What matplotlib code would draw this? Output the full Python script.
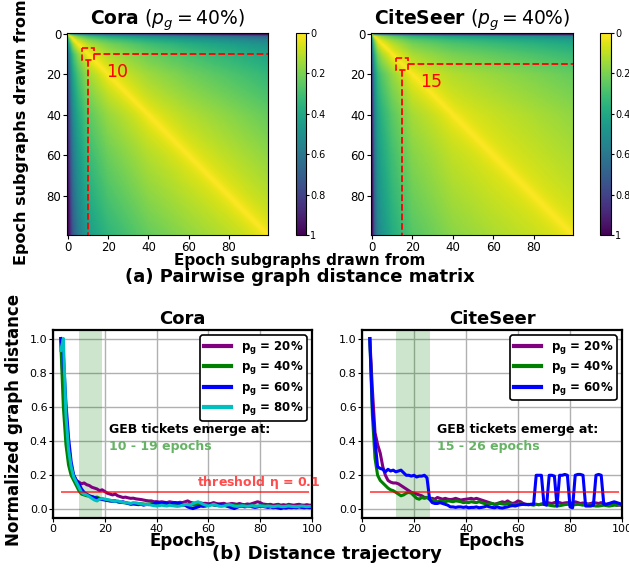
import numpy as np
import matplotlib
matplotlib.use("Agg")
import matplotlib.pyplot as plt
from matplotlib.patches import Rectangle

# ---------------- data ----------------
# heatmap model anchors: drift of each epoch's subgraph,
# separately for the upper-right and lower-left triangles
anchor_epochs = [0, 1, 2, 3, 5, 10, 20, 40, 60, 80, 99]
cora_drift_upper = [0, 0.35, 0.42, 0.48, 0.55, 0.63, 0.71, 0.81, 0.88, 0.94, 1.0]
cora_drift_lower = [0, 0.15, 0.28, 0.36, 0.46, 0.60, 0.70, 0.81, 0.88, 0.94, 1.0]
cite_drift_upper = [0, 0.50, 0.55, 0.60, 0.65, 0.72, 0.81, 0.88, 0.92, 0.96, 1.0]
cite_drift_lower = [0, 0.30, 0.42, 0.50, 0.56, 0.66, 0.78, 0.87, 0.92, 0.96, 1.0]
noise_floor = 0.045
cora_mark = 10
citeseer_mark = 15

epochs = list(range(3, 101))

cora_p20 = [1.0, 0.72, 0.48, 0.33, 0.24, 0.20, 0.17, 0.16, 0.15, 0.155,
            0.145, 0.14, 0.13, 0.125, 0.12, 0.11, 0.115, 0.105, 0.095, 0.09,
            0.085, 0.09, 0.08, 0.075, 0.07, 0.072, 0.068, 0.065, 0.066, 0.062,
            0.06, 0.058, 0.055, 0.052, 0.05, 0.05, 0.045, 0.046, 0.043, 0.045,
            0.042, 0.04, 0.045, 0.042, 0.04, 0.038, 0.042, 0.04, 0.045, 0.05,
            0.042, 0.038, 0.035, 0.04, 0.038, 0.035, 0.036, 0.033, 0.035, 0.04,
            0.035, 0.032, 0.034, 0.036, 0.03, 0.032, 0.035, 0.033, 0.03, 0.035,
            0.03, 0.028, 0.032, 0.03, 0.035, 0.04, 0.045, 0.04, 0.032, 0.03,
            0.028, 0.03, 0.025, 0.028, 0.03, 0.025, 0.028, 0.025, 0.03, 0.027,
            0.025, 0.028, 0.03, 0.026, 0.025, 0.028, 0.025, 0.025]
cora_p40 = [0.98, 0.6, 0.38, 0.26, 0.2, 0.17, 0.14, 0.11, 0.09, 0.085,
            0.08, 0.078, 0.075, 0.07, 0.072, 0.065, 0.06, 0.058, 0.055, 0.05,
            0.05, 0.048, 0.045, 0.042, 0.04, 0.038, 0.036, 0.035, 0.034, 0.036,
            0.035, 0.033, 0.032, 0.03, 0.032, 0.034, 0.03, 0.028, 0.03, 0.032,
            0.035, 0.03, 0.028, 0.025, 0.027, 0.03, 0.028, 0.025, 0.027, 0.03,
            0.028, 0.026, 0.025, 0.028, 0.03, 0.027, 0.025, 0.028, 0.03, 0.026,
            0.025, 0.022, 0.024, 0.025, 0.022, 0.02, 0.022, 0.025, 0.023, 0.02,
            0.022, 0.02, 0.018, 0.02, 0.022, 0.02, 0.018, 0.02, 0.022, 0.02,
            0.018, 0.02, 0.017, 0.018, 0.02, 0.018, 0.016, 0.018, 0.02, 0.017,
            0.016, 0.018, 0.017, 0.015, 0.018, 0.016, 0.015, 0.016]
cora_p60 = [1.0, 0.9, 0.62, 0.42, 0.28, 0.2, 0.17, 0.15, 0.12, 0.1,
            0.09, 0.08, 0.075, 0.07, 0.065, 0.06, 0.058, 0.055, 0.052, 0.05,
            0.048, 0.05, 0.045, 0.042, 0.045, 0.04, 0.035, 0.03, 0.032, 0.03,
            0.028, 0.03, 0.025, 0.03, 0.028, 0.03, 0.032, 0.04, 0.038, 0.035,
            0.04, 0.035, 0.03, 0.035, 0.04, 0.038, 0.035, 0.03, 0.025, 0.015,
            0.01, 0.005, 0.01, 0.015, 0.02, 0.018, 0.02, 0.025, 0.03, 0.028,
            0.025, 0.03, 0.028, 0.025, 0.02, 0.015, 0.01, 0.005, 0.012, 0.018,
            0.02, 0.015, 0.018, 0.02, 0.015, 0.012, 0.015, 0.02, 0.018, 0.015,
            0.012, 0.015, 0.01, 0.012, 0.008, 0.005, 0.01, 0.008, 0.012, 0.01,
            0.012, 0.01, 0.015, 0.012, 0.01, 0.012, 0.01, 0.012]
cora_p80 = [0.93, 1.0, 0.55, 0.35, 0.25, 0.19, 0.16, 0.13, 0.1, 0.09,
            0.085, 0.075, 0.065, 0.055, 0.05, 0.06, 0.065, 0.06, 0.058, 0.055,
            0.05, 0.048, 0.05, 0.045, 0.042, 0.04, 0.038, 0.035, 0.04, 0.038,
            0.035, 0.032, 0.03, 0.028, 0.03, 0.025, 0.022, 0.02, 0.022, 0.025,
            0.022, 0.02, 0.025, 0.022, 0.02, 0.018, 0.02, 0.025, 0.03, 0.028,
            0.025, 0.035, 0.04, 0.045, 0.038, 0.03, 0.025, 0.02, 0.025, 0.03,
            0.025, 0.02, 0.018, 0.02, 0.025, 0.028, 0.025, 0.02, 0.018, 0.02,
            0.022, 0.02, 0.018, 0.02, 0.022, 0.018, 0.02, 0.022, 0.02, 0.018,
            0.02, 0.018, 0.016, 0.018, 0.02, 0.017, 0.016, 0.018, 0.02, 0.018,
            0.017, 0.016, 0.018, 0.02, 0.018, 0.016, 0.018, 0.017]

cite_p20 = [1.0, 0.7, 0.45, 0.38, 0.33, 0.25, 0.2, 0.17, 0.16, 0.155,
            0.155, 0.15, 0.14, 0.13, 0.12, 0.11, 0.1, 0.095, 0.09, 0.085,
            0.08, 0.07, 0.07, 0.065, 0.065, 0.06, 0.07, 0.065, 0.06, 0.065,
            0.06, 0.058, 0.06, 0.065, 0.06, 0.055, 0.058, 0.06, 0.062, 0.065,
            0.06, 0.065, 0.06, 0.055, 0.05, 0.045, 0.04, 0.035, 0.03, 0.035,
            0.04, 0.045, 0.04, 0.05, 0.04, 0.035, 0.04, 0.05, 0.045, 0.035,
            0.03, 0.028, 0.03, 0.032, 0.03, 0.028, 0.03, 0.035, 0.04, 0.038,
            0.035, 0.04, 0.045, 0.04, 0.035, 0.038, 0.04, 0.035, 0.038, 0.045,
            0.04, 0.035, 0.038, 0.035, 0.032, 0.035, 0.04, 0.038, 0.035, 0.04,
            0.035, 0.03, 0.032, 0.028, 0.03, 0.025, 0.025, 0.025]
cite_p40 = [1.0, 0.55, 0.3, 0.2, 0.17, 0.155, 0.14, 0.125, 0.115, 0.11,
            0.1, 0.09, 0.08, 0.085, 0.095, 0.1, 0.095, 0.08, 0.065, 0.06,
            0.07, 0.065, 0.07, 0.06, 0.055, 0.05, 0.045, 0.05, 0.048, 0.045,
            0.05, 0.048, 0.045, 0.05, 0.048, 0.045, 0.04, 0.042, 0.04, 0.045,
            0.042, 0.04, 0.045, 0.04, 0.035, 0.03, 0.032, 0.035, 0.03, 0.032,
            0.035, 0.032, 0.03, 0.035, 0.032, 0.03, 0.028, 0.03, 0.032, 0.03,
            0.028, 0.03, 0.028, 0.025, 0.03, 0.028, 0.032, 0.03, 0.028, 0.025,
            0.022, 0.02, 0.02, 0.022, 0.025, 0.028, 0.03, 0.028, 0.025, 0.028,
            0.03, 0.028, 0.025, 0.028, 0.03, 0.025, 0.022, 0.02, 0.02, 0.022,
            0.025, 0.022, 0.02, 0.022, 0.025, 0.025, 0.028, 0.025]
cite_p60 = [1.0, 0.6, 0.4, 0.25, 0.24, 0.235, 0.22, 0.235, 0.225, 0.23,
            0.22, 0.225, 0.23, 0.215, 0.2, 0.2, 0.195, 0.2, 0.19, 0.195,
            0.195, 0.2, 0.185, 0.06, 0.04, 0.035, 0.035, 0.04, 0.035, 0.03,
            0.025, 0.015, 0.015, 0.012, 0.015, 0.015, 0.012, 0.015, 0.01, 0.012,
            0.012, 0.015, 0.01, 0.012, 0.015, 0.02, 0.015, 0.012, 0.01, 0.015,
            0.01, 0.008, 0.012, 0.015, 0.02, 0.022, 0.02, 0.025, 0.028, 0.03,
            0.03, 0.028, 0.03, 0.03, 0.2, 0.2, 0.2, 0.03, 0.025, 0.2,
            0.2, 0.195, 0.02, 0.2, 0.2, 0.205, 0.2, 0.015, 0.01, 0.2,
            0.205, 0.205, 0.2, 0.02, 0.02, 0.02, 0.025, 0.2, 0.205, 0.2,
            0.03, 0.03, 0.035, 0.04, 0.045, 0.04, 0.035, 0.03]

legend_labels = ["20%", "40%", "60%", "80%"]
line_colors = ["purple", "green", "blue", "c"]
threshold = 0.1
cora_window = (10, 19)
cite_window = (13, 26)
cora_text = "10 - 19 epochs"
cite_text = "15 - 26 epochs"

# ---------------- figure ----------------
W, H = 629, 569
fig = plt.figure(figsize=(W / 100, H / 100), dpi=100)


def box(l, r, t, b):
    return [l / W, 1 - b / H, (r - l) / W, (b - t) / H]


def distance_matrix(upper, lower):
    n = 100
    idx = np.arange(n)
    pu = np.interp(idx, anchor_epochs, upper)
    pl = np.interp(idx, anchor_epochs, lower)
    gap = np.abs(idx[:, None] - idx[None, :])
    floor = noise_floor * (1 - np.exp(-gap / 5.0))
    du = np.abs(pu[:, None] - pu[None, :])
    dl = np.abs(pl[:, None] - pl[None, :])
    rows, cols = np.meshgrid(idx, idx, indexing="ij")
    d = np.where(cols >= rows, du, dl) + floor
    return np.clip(d, 0, 1)


def heat(ax_box, cb_box, upper, lower, name, mark):
    ax = fig.add_axes(box(*ax_box))
    cax = fig.add_axes(box(*cb_box))
    im = ax.imshow(distance_matrix(upper, lower), cmap="viridis_r", vmin=0,
                   vmax=1, aspect="auto", interpolation="bilinear")
    ax.set_xticks([0, 20, 40, 60, 80])
    ax.set_yticks([0, 20, 40, 60, 80])
    ax.tick_params(labelsize=8.5, length=3, pad=1)
    ax.set_title(r"$\mathbf{%s}$ ($p_g = 40\%%$)" % name, fontsize=13.5, pad=4)
    ax.add_patch(Rectangle((mark - 3, mark - 3), 6, 6, fill=False, ec="red",
                           ls="--", lw=1.2))
    ax.plot([mark + 3, 99.5], [mark, mark], color="red", ls="--", lw=1.3)
    ax.plot([mark, mark], [mark + 3, 99.5], color="red", ls="--", lw=1.3)
    ax.text(mark + 9, mark + 9, str(mark), color="red", fontsize=12.5,
            ha="left", va="center")
    ax.set_xlim(-0.5, 99.5)
    ax.set_ylim(99.5, -0.5)
    cb = fig.colorbar(im, cax=cax, ticks=[0, 0.2, 0.4, 0.6, 0.8, 1])
    cb.ax.set_yticklabels(["0", "0.2", "0.4", "0.6", "0.8", "1"])
    cb.ax.invert_yaxis()
    cb.ax.tick_params(labelsize=7, length=2.5, pad=0.5)


heat((67, 268, 33, 235), (296, 306, 33, 235), cora_drift_upper,
     cora_drift_lower, "Cora", cora_mark)
heat((371, 573, 33, 235), (600, 611, 33, 235), cite_drift_upper,
     cite_drift_lower, "CiteSeer", citeseer_mark)

fig.text(300 / W, 1 - 261 / H, "Epoch subgraphs drawn from", ha="center",
         va="center", fontsize=11, fontweight="bold")
fig.text(22 / W, 1 - 132 / H, "Epoch subgraphs drawn from", ha="center",
         va="center", rotation=90, fontsize=11.5, fontweight="bold")
fig.text(300 / W, 1 - 277 / H, "(a) Pairwise graph distance matrix",
         ha="center", va="center", fontsize=13, fontweight="bold")


def traj(ax_box, series, labels, colors, window, name, text_x, win_text,
         show_thr):
    ax = fig.add_axes(box(*ax_box))
    ax.grid(True, color="#b0b0b0", lw=1)
    ax.set_axisbelow(True)
    ax.axvspan(window[0], window[1], color="green", alpha=0.2, lw=0)
    for s, lab, col in zip(series, labels, colors):
        ax.plot(epochs, s, color=col, lw=2.2,
                label=r"$\mathbf{p_g}$ = " + lab)
    ax.hlines(threshold, 3, 99, color="red", alpha=0.75, lw=1.2)
    if show_thr:
        ax.text(55.5, 0.155, r"threshold $\mathbf{\eta}$ = 0.1", color="red",
                alpha=0.7, fontsize=9, fontweight="bold", va="center")
    ax.text(text_x, 0.47, "GEB tickets emerge at:", fontsize=9,
            fontweight="bold", va="center")
    ax.text(text_x, 0.37, win_text, fontsize=9, fontweight="bold",
            color="#66b366", va="center")
    ax.set_xlim(0, 100)
    ax.set_ylim(-0.05, 1.05)
    ax.set_xticks([0, 20, 40, 60, 80, 100])
    ax.set_yticks([0, 0.2, 0.4, 0.6, 0.8, 1.0])
    ax.tick_params(labelsize=8, length=3, pad=1)
    for sp in ax.spines.values():
        sp.set_color("black")
        sp.set_linewidth(1.6)
    ax.set_title(name, fontsize=13, fontweight="bold", pad=4)
    ax.set_xlabel("Epochs", fontsize=12, fontweight="bold", labelpad=-1)
    leg = ax.legend(loc="upper right", prop={"weight": "bold", "size": 8.5},
                    handlelength=2.3, labelspacing=0.3, borderpad=0.3,
                    handletextpad=0.8, borderaxespad=0.45,
                    framealpha=1, fancybox=True)
    leg.get_frame().set_edgecolor("black")
    leg.get_frame().set_linewidth(1.2)
    leg.set_zorder(5)
    for ln in leg.get_lines():
        ln.set_linewidth(3)
    return ax


traj((53, 312, 330, 518), [cora_p20, cora_p40, cora_p60, cora_p80],
     legend_labels, line_colors, cora_window, "Cora", 21.5, cora_text, True)
traj((362, 622, 330, 518), [cite_p20, cite_p40, cite_p60],
     legend_labels[:3], line_colors[:3], cite_window, "CiteSeer", 29,
     cite_text, False)

fig.text(14 / W, 1 - 420 / H, "Normalized graph distance", ha="center",
         va="center", rotation=90, fontsize=12, fontweight="bold")
fig.text(327 / W, 1 - 554 / H, "(b) Distance trajectory", ha="center",
         va="center", fontsize=13, fontweight="bold")

fig.savefig("out.png", dpi=100)
